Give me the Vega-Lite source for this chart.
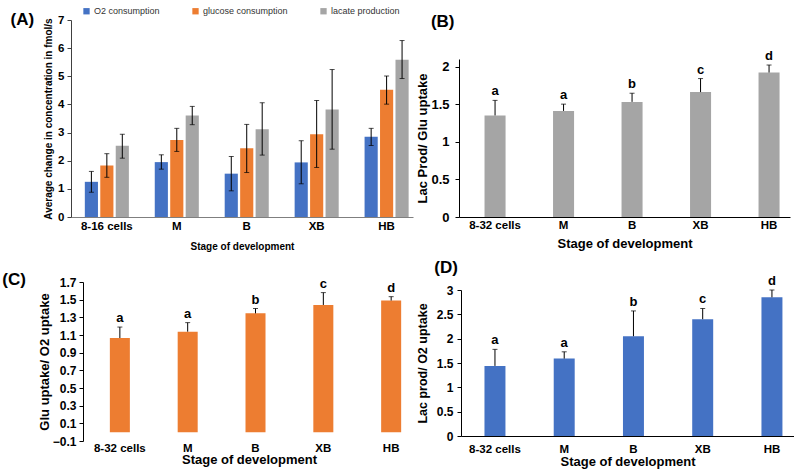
{
  "$schema": "https://vega.github.io/schema/vega-lite/v6.json",
  "padding": {"left": 2, "top": 6, "right": 0, "bottom": 0},
  "columns": 2,
  "align": "none",
  "bounds": "full",
  "spacing": {"row": 7, "column": -9},
  "datasets": {
    "A": [
      {"stage": "8-16 cells", "series": "O2 consumption", "value": 1.25, "lo": 0.88, "hi": 1.62},
      {"stage": "8-16 cells", "series": "glucose consumption", "value": 1.83, "lo": 1.41, "hi": 2.25},
      {"stage": "8-16 cells", "series": "lacate production", "value": 2.53, "lo": 2.09, "hi": 2.94},
      {"stage": "M", "series": "O2 consumption", "value": 1.95, "lo": 1.70, "hi": 2.21},
      {"stage": "M", "series": "glucose consumption", "value": 2.74, "lo": 2.33, "hi": 3.15},
      {"stage": "M", "series": "lacate production", "value": 3.61, "lo": 3.28, "hi": 3.93},
      {"stage": "B", "series": "O2 consumption", "value": 1.54, "lo": 0.93, "hi": 2.15},
      {"stage": "B", "series": "glucose consumption", "value": 2.44, "lo": 1.58, "hi": 3.29},
      {"stage": "B", "series": "lacate production", "value": 3.12, "lo": 2.20, "hi": 4.06},
      {"stage": "XB", "series": "O2 consumption", "value": 1.94, "lo": 1.18, "hi": 2.71},
      {"stage": "XB", "series": "glucose consumption", "value": 2.94, "lo": 1.76, "hi": 4.14},
      {"stage": "XB", "series": "lacate production", "value": 3.82, "lo": 2.41, "hi": 5.24},
      {"stage": "HB", "series": "O2 consumption", "value": 2.85, "lo": 2.54, "hi": 3.15},
      {"stage": "HB", "series": "glucose consumption", "value": 4.52, "lo": 4.01, "hi": 5.01},
      {"stage": "HB", "series": "lacate production", "value": 5.59, "lo": 4.92, "hi": 6.27}
    ],
    "B": [
      {"stage": "8-32 cells", "value": 1.35, "hi": 1.55, "letter": "a"},
      {"stage": "M", "value": 1.41, "hi": 1.50, "letter": "a"},
      {"stage": "B", "value": 1.53, "hi": 1.645, "letter": "b"},
      {"stage": "XB", "value": 1.66, "hi": 1.84, "letter": "c"},
      {"stage": "HB", "value": 1.92, "hi": 2.02, "letter": "d"}
    ],
    "C": [
      {"stage": "8-32 cells", "value": 1.066, "hi": 1.19, "letter": "a"},
      {"stage": "M", "value": 1.138, "hi": 1.24, "letter": "a"},
      {"stage": "B", "value": 1.345, "hi": 1.40, "letter": "b"},
      {"stage": "XB", "value": 1.44, "hi": 1.58, "letter": "c"},
      {"stage": "HB", "value": 1.49, "hi": 1.534, "letter": "d"}
    ],
    "D": [
      {"stage": "8-32 cells", "value": 1.44, "hi": 1.78, "letter": "a"},
      {"stage": "M", "value": 1.59, "hi": 1.73, "letter": "a"},
      {"stage": "B", "value": 2.05, "hi": 2.57, "letter": "b"},
      {"stage": "XB", "value": 2.40, "hi": 2.62, "letter": "c"},
      {"stage": "HB", "value": 2.85, "hi": 3.0, "letter": "d"}
    ]
  },
  "concat": [
    {
      "width": 330,
      "height": 197,
      "data": {"name": "A"},
      "title": {"text": "(A)", "anchor": "start", "frame": "bounds", "orient": "top", "fontSize": 17, "fontWeight": "bold", "offset": -15, "dx": -33},
      "encoding": {
        "x": {
          "field": "stage", "type": "nominal", "sort": ["8-16 cells", "M", "B", "XB", "HB"],
          "scale": {"range": [-12, 330], "paddingInner": 0.37, "paddingOuter": 0.13, "align": 0.76},
          "axis": {"title": "Stage of development", "labelAngle": 0, "ticks": false, "domainColor": "#7f7f7f", "labelFontSize": 11.5, "labelFontWeight": "bold", "titleFontSize": 10, "titleFontWeight": "bold", "labelPadding": 3, "titlePadding": 10}
        },
        "xOffset": {"field": "series", "type": "nominal", "sort": ["O2 consumption", "glucose consumption", "lacate production"], "scale": {"paddingInner": 0.15}}
      },
      "layer": [
        {
          "mark": {"type": "bar"},
          "encoding": {
            "y": {"field": "value", "type": "quantitative", "title": "Average change in concentration in fmol/s",
              "scale": {"domain": [0, 7], "nice": false},
              "axis": {"values": [0, 1, 2, 3, 4, 5, 6, 7], "format": "d", "tickCount": 50, "labelOverlap": false, "offset": 12, "tickSize": 4, "labelFontSize": 11.5, "labelFontWeight": "bold", "labelPadding": 3, "titleFontSize": 10, "titleFontWeight": "bold", "titlePadding": 4, "domainColor": "#404040", "tickColor": "#404040"}},
            "color": {
              "field": "series", "type": "nominal",
              "scale": {"domain": ["O2 consumption", "glucose consumption", "lacate production"], "range": ["#4472C4", "#ED7D31", "#A5A5A5"]},
              "legend": {"orient": "none", "legendX": -1, "legendY": -13.5, "padding": 0, "direction": "horizontal", "columns": 3, "title": null, "symbolType": "square", "symbolSize": 40, "symbolStrokeWidth": 0, "labelFontSize": 9, "labelColor": "#333", "columnPadding": 31, "labelOffset": 3}
            }
          }
        },
        {
          "mark": {"type": "rule", "color": "#000", "strokeWidth": 1},
          "encoding": {
            "y": {"field": "lo", "type": "quantitative", "title": "Average change in concentration in fmol/s"},
            "y2": {"field": "hi"}
          }
        },
        {
          "mark": {"type": "tick", "color": "#000", "size": 5, "thickness": 1},
          "encoding": {"y": {"field": "lo", "type": "quantitative", "title": "Average change in concentration in fmol/s"}}
        },
        {
          "mark": {"type": "tick", "color": "#000", "size": 5, "thickness": 1},
          "encoding": {"y": {"field": "hi", "type": "quantitative", "title": "Average change in concentration in fmol/s"}}
        }
      ]
    },
    {
      "width": 331,
      "height": 197,
      "data": {"name": "B"},
      "title": {"text": "(B)", "anchor": "start", "frame": "bounds", "orient": "top", "fontSize": 17, "fontWeight": "bold", "offset": -11, "dx": 14},
      "encoding": {
        "x": {
          "field": "stage", "type": "nominal", "sort": ["8-32 cells", "M", "B", "XB", "HB"],
          "scale": {"paddingInner": 0.693, "paddingOuter": 0.2625, "align": 0.71},
          "axis": {"title": "Stage of development", "labelAngle": 0, "ticks": false, "labelFontSize": 11.5, "labelFontWeight": "bold", "titleFontSize": 13, "titleFontWeight": "bold", "labelPadding": 2, "titlePadding": 7}
        }
      },
      "layer": [
        {
          "mark": {"type": "bar", "color": "#A5A5A5"},
          "encoding": {
            "y": {"field": "value", "type": "quantitative", "title": "Lac Prod/ Glu uptake",
              "scale": {"domain": [0, 2.1], "nice": false, "range": [197, 39]},
              "axis": {"values": [0, 0.5, 1, 1.5, 2], "tickCount": 50, "labelOverlap": false, "format": ".1~f", "tickSize": 4, "labelFontSize": 13, "labelFontWeight": "bold", "labelPadding": 6, "titleFontSize": 13, "titleFontWeight": "bold", "titlePadding": 1}}
          }
        },
        {
          "mark": {"type": "rule", "color": "#000", "strokeWidth": 1},
          "encoding": {"y": {"field": "value", "type": "quantitative", "title": "Lac Prod/ Glu uptake"}, "y2": {"field": "hi"}}
        },
        {
          "mark": {"type": "tick", "color": "#000", "size": 5, "thickness": 1},
          "encoding": {"y": {"field": "hi", "type": "quantitative", "title": "Lac Prod/ Glu uptake"}}
        },
        {
          "mark": {"type": "text", "baseline": "bottom", "dy": -2, "fontSize": 13, "fontWeight": "bold", "color": "#000"},
          "encoding": {"y": {"field": "hi", "type": "quantitative", "title": "Lac Prod/ Glu uptake"}, "text": {"field": "letter"}}
        }
      ]
    },
    {
      "width": 332,
      "height": 159,
      "data": {"name": "C"},
      "title": {"text": ["", "(C)"], "lineHeight": 12, "anchor": "start", "frame": "bounds", "orient": "top", "fontSize": 17, "fontWeight": "bold", "offset": -13, "dx": -36},
      "encoding": {
        "x": {
          "field": "stage", "type": "nominal", "sort": ["8-32 cells", "M", "B", "XB", "HB"],
          "scale": {"paddingInner": 0.705, "paddingOuter": 0.30, "align": 0.66},
          "axis": {"title": "Stage of development", "labelAngle": 0, "ticks": false, "domain": false, "labelFontSize": 11.5, "labelFontWeight": "bold", "titleFontSize": 13, "titleFontWeight": "bold", "labelPadding": 1, "titlePadding": 0}
        }
      },
      "layer": [
        {
          "mark": {"type": "bar", "color": "#ED7D31"},
          "encoding": {
            "y": {"field": "value", "type": "quantitative", "title": "Glu uptake/ O2 uptake",
              "scale": {"domain": [-0.1, 1.7], "nice": false, "zero": false},
              "axis": {"values": [-0.1, 0.1, 0.3, 0.5, 0.7, 0.9, 1.1, 1.3, 1.5, 1.7], "tickCount": 50, "labelOverlap": false, "format": ".1f", "tickSize": 4, "labelFontSize": 12, "labelFontWeight": "bold", "labelPadding": 3, "titleFontSize": 13, "titleFontWeight": "bold", "titlePadding": 1}},
            "y2": {"datum": 0}
          }
        },
        {
          "mark": {"type": "rule", "color": "#8c8c8c", "strokeWidth": 1},
          "encoding": {"y": {"datum": 0, "type": "quantitative"}}
        },
        {
          "mark": {"type": "rule", "color": "#000", "strokeWidth": 1},
          "encoding": {"y": {"field": "value", "type": "quantitative", "title": "Glu uptake/ O2 uptake"}, "y2": {"field": "hi"}}
        },
        {
          "mark": {"type": "tick", "color": "#000", "size": 5, "thickness": 1},
          "encoding": {"y": {"field": "hi", "type": "quantitative", "title": "Glu uptake/ O2 uptake"}}
        },
        {
          "mark": {"type": "text", "baseline": "bottom", "dy": -2, "fontSize": 13, "fontWeight": "bold", "color": "#000"},
          "encoding": {"y": {"field": "hi", "type": "quantitative", "title": "Glu uptake/ O2 uptake"}, "text": {"field": "letter"}}
        }
      ]
    },
    {
      "width": 333,
      "height": 146,
      "data": {"name": "D"},
      "title": {"text": "(D)", "anchor": "start", "frame": "bounds", "orient": "top", "fontSize": 17, "fontWeight": "bold", "offset": -2, "dx": 18},
      "encoding": {
        "x": {
          "field": "stage", "type": "nominal", "sort": ["8-32 cells", "M", "B", "XB", "HB"],
          "scale": {"paddingInner": 0.697, "paddingOuter": 0.253, "align": 0.67},
          "axis": {"title": "Stage of development", "labelAngle": 0, "ticks": false, "labelFontSize": 11.5, "labelFontWeight": "bold", "titleFontSize": 13, "titleFontWeight": "bold", "labelPadding": 7, "titlePadding": 1}
        }
      },
      "layer": [
        {
          "mark": {"type": "bar", "color": "#4472C4"},
          "encoding": {
            "y": {"field": "value", "type": "quantitative", "title": "Lac prod/ O2 uptake",
              "scale": {"domain": [0, 3], "nice": false},
              "axis": {"values": [0, 0.5, 1, 1.5, 2, 2.5, 3], "tickCount": 50, "labelOverlap": false, "format": ".1~f", "tickSize": 4, "labelFontSize": 12, "labelFontWeight": "bold", "labelPadding": 4, "titleFontSize": 12.5, "titleFontWeight": "bold", "titlePadding": 7}}
          }
        },
        {
          "mark": {"type": "rule", "color": "#000", "strokeWidth": 1},
          "encoding": {"y": {"field": "value", "type": "quantitative", "title": "Lac prod/ O2 uptake"}, "y2": {"field": "hi"}}
        },
        {
          "mark": {"type": "tick", "color": "#000", "size": 5, "thickness": 1},
          "encoding": {"y": {"field": "hi", "type": "quantitative", "title": "Lac prod/ O2 uptake"}}
        },
        {
          "mark": {"type": "text", "baseline": "bottom", "dy": -2, "fontSize": 13, "fontWeight": "bold", "color": "#000"},
          "encoding": {"y": {"field": "hi", "type": "quantitative", "title": "Lac prod/ O2 uptake"}, "text": {"field": "letter"}}
        }
      ]
    }
  ],
  "config": {
    "view": {"stroke": null},
    "font": "Liberation Sans",
    "title": {"font": "Liberation Sans", "color": "#000"},
    "axis": {"grid": false, "labelOverlap": false, "labelColor": "#000", "titleColor": "#000", "domainColor": "#000", "tickColor": "#000", "labelFont": "Liberation Sans", "titleFont": "Liberation Sans"},
    "legend": {"labelFont": "Liberation Sans"}
  }
}
